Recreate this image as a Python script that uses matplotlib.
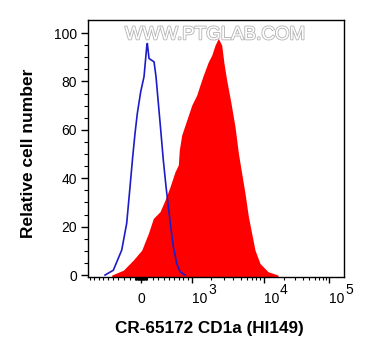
import matplotlib
matplotlib.use("Agg")
import matplotlib.pyplot as plt
import matplotlib.patheffects as pe
import numpy as np

plt.rcParams["font.family"] = ["Liberation Sans", "DejaVu Sans"]

# isotype control, drawn as a blue outline
control_x = [-663, -497, -340, -250, -191, -144, -104, -64, -5, 52, 99, 109, 139,
             227, 262, 304, 347, 395, 446, 490, 536, 588, 657, 726, 837]
control_y = [0, 2, 10.3, 21.4, 36.5, 48.9, 58.5, 66.8, 75.8, 82, 94.4, 95.7, 89.5,
             88.1, 82, 71, 60, 47.5, 36.5, 28.3, 20, 11.7, 4.8, 1.4, 0]

# CD1a stained cells, drawn as a red filled histogram
stained_x = [-528, -311, -134, 12, 127, 214, 334, 427, 523, 622, 690, 711, 763, 837,
             993, 1206, 1360, 1534, 1820, 2043, 2270, 2520, 2804, 3010, 3270, 3734,
             4215, 4670, 5156, 5690, 6298, 6947, 7660, 8885, 11530, 16430]
stained_y = [0, 2, 6.2, 10.3, 17.2, 23.4, 26.2, 31, 36.5, 42.7, 45.5, 51.7, 57.9, 62.0,
             70.2, 74.4, 78.5, 82.6, 88.1, 90.9, 95, 97.8, 95, 87.5, 80.6, 71,
             61.3, 50.3, 42, 33.8, 24.1, 17.2, 10.3, 4.8, 1.4, 0]

x_major = [0, 1e3, 1e4, 1e5]
x_major_labels = ["0", "10", "10", "10"]
x_exponents = [None, "3", "4", "5"]
y_major = [0, 20, 40, 60, 80, 100]
y_minor = [5, 10, 15, 25, 30, 35, 45, 50, 55, 65, 70, 75, 85, 90, 95]

X_MIN, X_MAX = -1050, 1.7e5
Y_MIN, Y_MAX = -0.8, 105.4

# logicle-like axis: asinh compression, stretched per decade like the cytometer plot
W = 1000.0
anchor_u = np.arcsinh(np.array([-1e3, 0, 1e3, 1e4, 1e5]) / W)
anchor_p = np.array([90, 141, 192, 264, 329], dtype=float)
slope_lo = (anchor_p[1] - anchor_p[0]) / (anchor_u[1] - anchor_u[0])
slope_hi = (anchor_p[-1] - anchor_p[-2]) / (anchor_u[-1] - anchor_u[-2])
U = np.concatenate([[anchor_u[0] - 20], anchor_u, [anchor_u[-1] + 20]])
P = np.concatenate([[anchor_p[0] - 20 * slope_lo], anchor_p, [anchor_p[-1] + 20 * slope_hi]])


def forward(x):
    return np.interp(np.arcsinh(np.asarray(x, dtype=float) / W), U, P)


def inverse(p):
    return W * np.sinh(np.interp(np.asarray(p, dtype=float), P, U))


def minor_ticks():
    lin = list(np.arange(10, 100, 10)) + list(np.arange(100, 1001, 100))
    neg = [-v for v in lin]
    logs = list(np.arange(2e3, 1e4, 1e3)) + list(np.arange(2e4, 1e5, 1e4))
    return sorted(neg + lin[:-1] + logs)


fig = plt.figure(figsize=(3.65, 3.6), dpi=100)
ax = fig.add_axes([88 / 365, 1 - 277 / 360, 256 / 365, 257 / 360])

ax.fill_between(stained_x, stained_y, Y_MIN, color="#ff0000", lw=0, zorder=2)
ax.plot(control_x, control_y, color="#1c1cc8", lw=1.2, zorder=3)

ax.set_xscale("function", functions=(forward, inverse))
ax.set_xlim(X_MIN, X_MAX)
ax.set_ylim(Y_MIN, Y_MAX)

ax.set_xticks(x_major, labels=x_major_labels)
ax.set_xticks(minor_ticks(), minor=True)
ax.set_yticks(y_major)
ax.set_yticks(y_minor, minor=True)

ax.tick_params(axis="x", which="major", length=4.5, width=1, pad=14.2, labelsize=10)
ax.tick_params(axis="x", which="minor", length=2.5, width=0.8)
ax.tick_params(axis="y", which="major", length=5, width=1, pad=3, labelsize=10)
ax.tick_params(axis="y", which="minor", length=3, width=0.8)
for lbl in ax.get_xticklabels():
    lbl.set_verticalalignment("baseline")
    if lbl.get_text() != "0":
        lbl.set_horizontalalignment("left")

# powers of ten: exponent at full size, raised next to the "10"
for pos, exp in zip(x_major, x_exponents):
    if exp is None:
        continue
    ax.annotate(exp, xy=(pos, 0), xycoords=ax.get_xaxis_transform(),
                xytext=(11.6, -12.3), textcoords="offset points",
                ha="left", va="baseline", fontsize=10, annotation_clip=False)

for sp in ax.spines.values():
    sp.set_linewidth(1)

ax.set_xlabel("CR-65172 CD1a (HI149)", fontsize=12.3, fontweight="bold")
ax.xaxis.set_label_coords(0.473, -0.171)
ax.set_ylabel("Relative cell number", fontsize=12.5, fontweight="bold")
ax.yaxis.set_label_coords(-0.203, 0.482)

ax.text(0.496, 0.942, "WWW.PTGLAB.COM", transform=ax.transAxes, ha="center", va="center",
        fontsize=13.5, color="white", zorder=4,
        path_effects=[pe.withStroke(linewidth=1.3, foreground="#b8b8b8")])

fig.savefig("out.png", dpi=100)
